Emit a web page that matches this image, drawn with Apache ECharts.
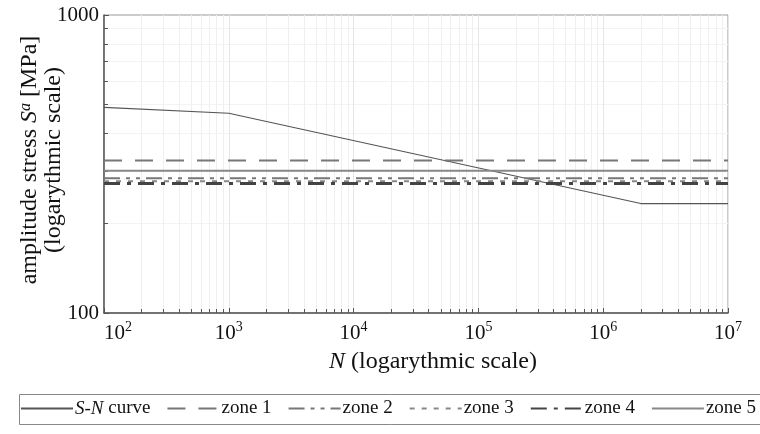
<!DOCTYPE html>
<html>
<head>
<meta charset="utf-8">
<script src="https://cdn.jsdelivr.net/npm/echarts@6/dist/echarts.min.js"></script>
<style>html,body{margin:0;padding:0;background:#fff}#c{width:760px;height:434px}</style>
</head>
<body>
<div id="c"></div>
<script>
// Data
const snN = [100, 1000, 2000000, 10000000];
const snS = [490, 468, 233, 233];
const zoneN = [100, 10000000];
const zone1 = [325, 325];
const zone2 = [283, 283];
const zone3 = [277, 277];
const zone4 = [272, 272];
const zone5 = [300, 300];
const seriesNames = ['S-N curve', 'zone 1', 'zone 2', 'zone 3', 'zone 4', 'zone 5'];

const FONT = '"Liberation Serif", "DejaVu Serif", serif';
function pairs(xs, ys) { return xs.map((x, i) => [x, ys[i]]); }

const chart = echarts.init(document.getElementById('c'), null, {renderer: 'canvas'});
const option = {
  animation: false,
  backgroundColor: '#fff',
  grid: {left: 104, right: 32, top: 15, bottom: 121, show: true, borderColor: '#999', borderWidth: 1,
         containLabel: false, outerBoundsMode: 'none'},
  xAxis: {
    type: 'log', logBase: 10, min: 100, max: 10000000,
    axisLine: {lineStyle: {color: '#555', width: 1.5}},
    axisTick: {inside: true, length: 5, lineStyle: {color: '#555'}},
    minorTick: {show: true, splitNumber: 9, length: 4, lineStyle: {color: '#555'}},
    splitLine: {show: true, lineStyle: {color: '#e6e6e6'}},
    minorSplitLine: {show: true, lineStyle: {color: '#efefef'}},
    axisLabel: {
      margin: 7, alignMinLabel: 'left',
      formatter: v => '{b|10}{s|' + Math.round(Math.log10(v)) + '}',
      rich: {
        b: {fontFamily: FONT, fontSize: 21, color: '#111', lineHeight: 24, verticalAlign: 'bottom'},
        s: {fontFamily: FONT, fontSize: 14, color: '#111', lineHeight: 24, verticalAlign: 'top', padding: [0,0,7,0]}
      }
    },
    name: '{i|N} (logarythmic scale)',
    nameLocation: 'middle', nameGap: 37, nameMoveOverlap: false,
    nameTextStyle: {
      fontFamily: FONT, fontSize: 24, color: '#111', padding: [0, 0, 0, 34],
      rich: {i: {fontFamily: FONT, fontSize: 24, fontStyle: 'italic', color: '#111'}}
    }
  },
  yAxis: {
    type: 'log', logBase: 10, min: 100, max: 1000,
    axisLine: {show: true, lineStyle: {color: '#555', width: 1.5}},
    axisTick: {show: true, inside: true, length: 5, lineStyle: {color: '#555'}},
    minorTick: {show: true, splitNumber: 9, length: 4, lineStyle: {color: '#555'}},
    splitLine: {show: false},
    minorSplitLine: {show: true, lineStyle: {color: '#f3f3f3'}},
    axisLabel: {fontFamily: FONT, fontSize: 21, color: '#111', margin: 5, formatter: v => String(Math.round(v))},
    name: 'amplitude stress {i|S}{s|a} [MPa]\n(logarythmic scale)',
    nameLocation: 'middle', nameGap: 38, nameRotate: 90, nameMoveOverlap: false,
    nameTextStyle: {
      fontFamily: FONT, fontSize: 24, color: '#111', lineHeight: 24, padding: [0, 0, 0, 8],
      rich: {
        i: {fontFamily: FONT, fontSize: 24, fontStyle: 'italic', color: '#111', lineHeight: 24},
        s: {fontFamily: FONT, fontSize: 16, fontStyle: 'italic', color: '#111', lineHeight: 24, verticalAlign: 'top', padding: [0,0,8,0]}
      }
    }
  },
  legend: {
    left: 15, top: 394, width: 900, orient: 'horizontal',
    itemWidth: 52, itemHeight: 14, itemGap: 16,
    data: seriesNames,
    itemStyle: {opacity: 0},
    formatter: n => n === 'S-N curve' ? '{i|S-N} curve' : n,
    textStyle: {
      fontFamily: FONT, fontSize: 19, color: '#111', padding: [0,0,0,-3],
      rich: {i: {fontFamily: FONT, fontSize: 19, fontStyle: 'italic', color: '#111'}}
    }
  },
  graphic: [{
    type: 'rect', left: 17, top: 392, shape: {width: 760, height: 30},
    style: {fill: 'none', stroke: '#888', lineWidth: 1}, silent: true
  }],
  series: [
    {name: seriesNames[0], type: 'line', data: pairs(snN, snS), symbol: 'none',
     lineStyle: {color: '#555', width: 1.2}},
    {name: seriesNames[1], type: 'line', data: pairs(zoneN, zone1), symbol: 'none',
     lineStyle: {color: '#777', width: 2, type: [18, 13]}},
    {name: seriesNames[2], type: 'line', data: pairs(zoneN, zone2), symbol: 'none',
     lineStyle: {color: '#777', width: 2, type: [16, 6, 4, 6, 4, 6]}},
    {name: seriesNames[3], type: 'line', data: pairs(zoneN, zone3), symbol: 'none',
     lineStyle: {color: '#888', width: 2, type: [5, 7]}},
    {name: seriesNames[4], type: 'line', data: pairs(zoneN, zone4), symbol: 'none',
     lineStyle: {color: '#444', width: 3, type: [16, 7, 4, 7]}},
    {name: seriesNames[5], type: 'line', data: pairs(zoneN, zone5), symbol: 'none',
     lineStyle: {color: '#888', width: 2}}
  ]
};
chart.setOption(option);
</script>
</body>
</html>
